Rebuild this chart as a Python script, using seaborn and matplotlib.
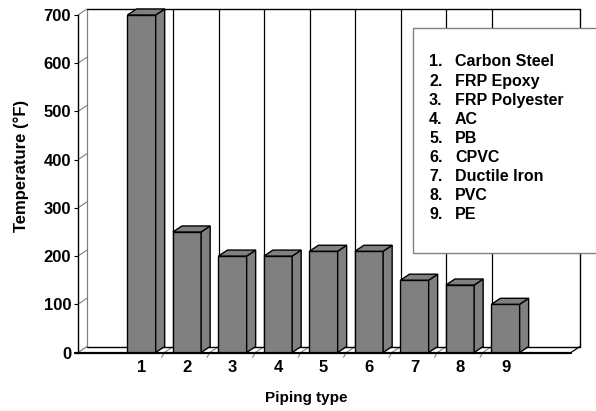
#!/usr/bin/env python3
"""Piping type vs max temperature - pseudo 3D column chart."""
import matplotlib
matplotlib.use("Agg")
import matplotlib.pyplot as plt
from matplotlib.patches import Polygon, Rectangle
import seaborn as sns

# data
piping_ids = ["1", "2", "3", "4", "5", "6", "7", "8", "9"]
piping_names = ["Carbon Steel", "FRP Epoxy", "FRP Polyester", "AC", "PB",
                "CPVC", "Ductile Iron", "PVC", "PE"]
max_temp_f = [700, 250, 200, 200, 210, 210, 150, 140, 100]
y_ticks = [0, 100, 200, 300, 400, 500, 600, 700]

# pixel geometry of the original (front plane)
W, H = 596, 411
SX = 45.5            # px per category
SY = 337.5 / 700     # px per degree
X0_PX = 141.55       # px of category 0
Y0_PX = 352.5        # px of value 0
XL = -1.397          # front left edge (data)
XR = 9.438           # front right edge (data)
DDX = 9 / SX         # depth offset
DDY = 6 / SY

GRAY = "#808080"


def px_to_data(px, py):
    return (px - X0_PX) / SX, (Y0_PX - py) / SY


def draw_frame(ax):
    top = 700 + DDY
    # back wall
    ax.plot([XL + DDX, XL + DDX], [DDY, top], color=GRAY, lw=0.9, zorder=0.5)
    ax.plot([XL + DDX, XR + DDX], [top, top], color="black", lw=1, zorder=0.5)
    ax.plot([XR + DDX, XR + DDX], [DDY, top], color="black", lw=1, zorder=0.5)
    for i in range(len(piping_ids) - 1):
        b = i + 0.5
        ax.plot([b + DDX, b + DDX], [DDY, top], color="black", lw=0.9, zorder=0.5)
        ax.plot([b, b + DDX], [0, DDY], color=GRAY, lw=0.8, zorder=0.5)
        ax.plot([b, b - 0.06], [0, -10], color=GRAY, lw=0.8, zorder=0.5, clip_on=False)
    # floor
    ax.plot([XL + DDX, XR + DDX], [DDY, DDY], color="black", lw=1, zorder=0.6)
    ax.plot([XL, XL + DDX], [0, DDY], color=GRAY, lw=0.9, zorder=0.6)
    ax.plot([XR, XR + DDX], [0, DDY], color="black", lw=0.9, zorder=0.6)
    ax.plot([XL - 0.07, XR], [0, 0], color="black", lw=1.6, zorder=3, clip_on=False)
    # side wall grid lines
    for v in y_ticks[1:]:
        ax.plot([XL, XL + DDX], [v, v + DDY], color=GRAY, lw=0.8, zorder=0.5)


def add_depth(ax):
    for bar in ax.patches:
        x0 = bar.get_x()
        x1 = x0 + bar.get_width()
        h = bar.get_height()
        top = Polygon([(x0, h), (x1, h), (x1 + DDX, h + DDY), (x0 + DDX, h + DDY)],
                      closed=True, facecolor=GRAY, edgecolor="black", lw=1, zorder=2)
        side = Polygon([(x1, 0), (x1 + DDX, DDY), (x1 + DDX, h + DDY), (x1, h)],
                       closed=True, facecolor=GRAY, edgecolor="black", lw=1, zorder=2)
        ax.add_patch(side)
        ax.add_patch(top)


def draw_legend(ax):
    lx, ty = px_to_data(412.7, 28.3)
    _, by = px_to_data(412.7, 252.7)
    box = Rectangle((lx, by), 6.0, ty - by, facecolor="white", edgecolor=GRAY,
                    lw=1, zorder=3, clip_on=False)
    ax.add_patch(box)
    for k, (num, name) in enumerate(zip(piping_ids, piping_names)):
        nx, ny = px_to_data(429, 62 + 19.1 * k)
        tx, _ = px_to_data(455, 0)
        ax.text(nx, ny, num + ".", ha="left", va="center", fontsize=11.5,
                fontweight="bold", color="black", zorder=4)
        ax.text(tx, ny, name, ha="left", va="center", fontsize=11.5,
                fontweight="bold", color="black", zorder=4)


def main():
    sns.set_style("white")
    plt.rcParams["font.family"] = ["Liberation Sans", "DejaVu Sans"]
    plt.rcParams["text.color"] = "black"
    plt.rcParams["xtick.color"] = "black"
    plt.rcParams["ytick.color"] = "black"
    plt.rcParams["axes.labelcolor"] = "black"

    fig = plt.figure(figsize=(W / 100, H / 100), dpi=100)
    ax = fig.add_axes([78 / W, (H - Y0_PX) / H, (W - 78) / W, Y0_PX / H])

    sns.barplot(x=piping_ids, y=max_temp_f, color=GRAY, saturation=1,
                edgecolor="black", linewidth=1, width=0.62, ax=ax, zorder=2)
    for bar in ax.patches:
        bar.set_zorder(2)
    add_depth(ax)
    draw_frame(ax)
    draw_legend(ax)

    ax.set_xlim(XL, (W - X0_PX) / SX)
    ax.set_ylim(0, Y0_PX / SY)
    ax.set_yticks(y_ticks)
    ax.set_yticklabels([str(v) for v in y_ticks])
    ax.set_xlabel("")
    ax.set_ylabel("")
    for s in ["top", "right", "bottom"]:
        ax.spines[s].set_visible(False)
    ax.spines["left"].set_bounds(0, 700)
    ax.spines["left"].set_color("black")
    ax.spines["left"].set_linewidth(1)
    ax.tick_params(axis="y", length=3, width=0.8, pad=2, labelsize=12, left=True,
                   colors="black")
    ax.tick_params(axis="x", length=0, pad=5.5, labelsize=12, colors="black")
    for lab in ax.get_xticklabels() + ax.get_yticklabels():
        lab.set_fontweight("bold")

    fig.text(21 / W, 1 - 166 / H, "Temperature (°F)", rotation=90, ha="center",
             va="center", fontsize=12, fontweight="bold", color="black")
    fig.text(306 / W, 1 - 398 / H, "Piping type", ha="center", va="center",
             fontsize=11, fontweight="bold", color="black")

    fig.savefig("out.png", dpi=100)
    plt.close(fig)


if __name__ == "__main__":
    main()
